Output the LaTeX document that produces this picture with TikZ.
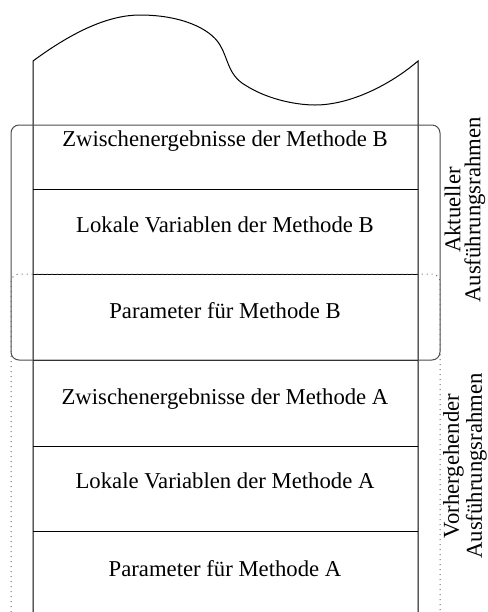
\documentclass[tikz,border=0pt]{standalone}
\usepackage{fontspec}
\setmainfont{Liberation Serif}
\begin{document}
\begin{tikzpicture}[
    x=0.5pt, y=-0.5pt,
    slot/.style={font=\fontsize{11.35}{10}\selectfont, anchor=base, inner sep=0pt},
    frame label/.style={font=\fontsize{11.35}{10}\selectfont, rotate=90, align=center, inner sep=0pt},
]
\useasboundingbox (0,0) rectangle (488,612);

% Stack with torn upper edge
\draw[line width=0.5pt] (33,612) -- (33,61)
    .. controls (75,30) and (110,15) .. (140,15)
    .. controls (180,15) and (210,28) .. (220,45)
    .. controls (228,58) and (228,75) .. (245,85)
    .. controls (270,101) and (300,105) .. (315,105)
    .. controls (350,105) and (390,85) .. (418,61)
    -- (418,612);

% Slot separators
\draw[line width=0.5pt] (33,189) -- (418,189);
\draw[line width=0.5pt] (33,274) -- (418,274);
\draw[line width=0.5pt] (33,360) -- (418,360);
\draw[line width=0.5pt] (33,446) -- (418,446);
\draw[line width=0.5pt] (33,531) -- (418,531);

% Slot contents, method B on top of method A
\node[slot] (zwB) at (225,146) {Zwischenergebnisse der Methode B};
\node[slot] (lokB) at (225,232) {Lokale Variablen der Methode B};
\node[slot] (parB) at (225,318) {Parameter für Methode B};
\node[slot] (zwA) at (225,404) {Zwischenergebnisse der Methode A};
\node[slot] (lokA) at (225,488) {Lokale Variablen der Methode A};
\node[slot] (parA) at (225,576) {Parameter für Methode A};

% Frames
\draw[black!70, line width=0.5pt, rounded corners=4pt] (11,125) rectangle (440,360);
\draw[black!60, line width=0.5pt, dotted, rounded corners=4pt] (11,612) -- (11,274) -- (440,274) -- (440,612);

% Frame labels
\node[frame label] (akt) at (465,210) {Aktueller\\Ausführungsrahmen};
\node[frame label] (vor) at (465,466) {Vorhergehender\\Ausführungsrahmen};
\end{tikzpicture}
\end{document}
